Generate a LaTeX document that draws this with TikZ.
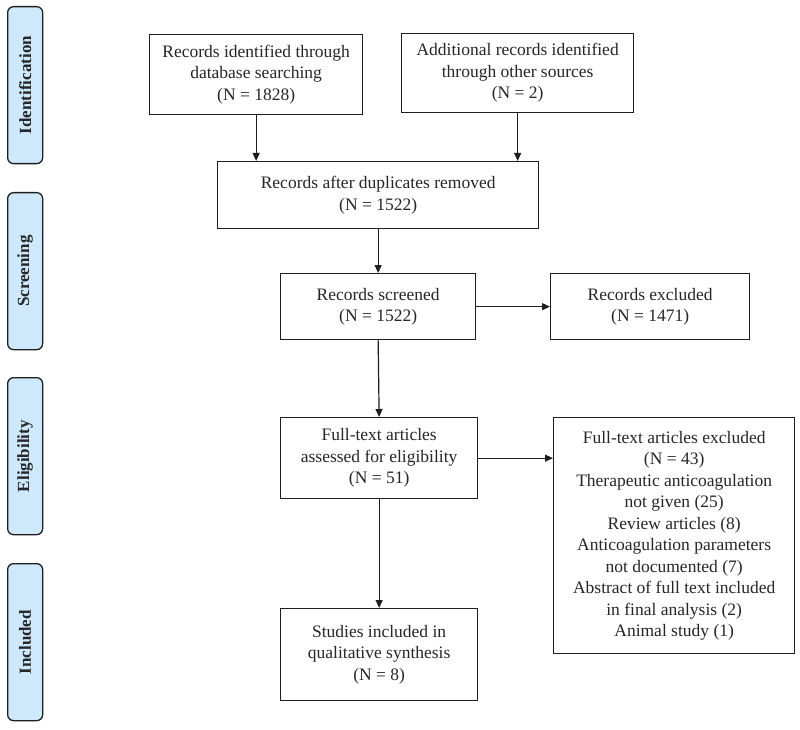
\documentclass[tikz,border=0pt]{standalone}
\usepackage{fontspec}
\setmainfont{Liberation Serif}
\usetikzlibrary{arrows.meta,positioning}
\definecolor{sidefill}{RGB}{206,232,252}
\definecolor{lineclr}{RGB}{30,30,30}
\begin{document}
\begin{tikzpicture}[x=1pt,y=-1pt,
  flowbox/.style={draw=lineclr,line width=1.3pt,fill=white,align=center,anchor=north west,inner sep=0pt,
    font=\fontsize{17.5}{21.5}\selectfont,text=black!85},
  sidebox/.style={draw=lineclr,line width=1.3pt,fill=sidefill,rounded corners=6pt,anchor=north west,inner sep=0pt,
    minimum width=35pt,minimum height=157pt},
  sidelabel/.style={rotate=90,font=\fontsize{17}{20}\selectfont\bfseries,text=black!85},
  arr/.style={draw=lineclr,line width=1.2pt,-{Triangle[length=8pt,width=7pt]}}]
\useasboundingbox (0,0) rectangle (800,730);
\fill[white] (0,0) rectangle (800,730);
% side bars
\node[sidebox] (s1) at (7,6) {};
\node[sidelabel] (s1t) at (s1.center) {Identification};
\node[sidebox] (s2) at (7,192) {};
\node[sidelabel] (s2t) at (s2.center) {Screening};
\node[sidebox] (s3) at (7,377) {};
\node[sidelabel] (s3t) at (s3.center) {Eligibility};
\node[sidebox] (s4) at (7,563) {};
\node[sidelabel] (s4t) at (s4.center) {Included};
% boxes
\node[flowbox,minimum width=213pt,minimum height=80pt] (b1) at (149,34)
  {Records identified through\\database searching\\(N = 1828)};
\node[flowbox,minimum width=232pt,minimum height=79pt] (b2) at (401,33)
  {Additional records identified\\through other sources\\(N = 2)};
\node[flowbox,minimum width=321pt,minimum height=67pt] (b3) at (217,161)
  {Records after duplicates removed\\(N = 1522)};
\node[flowbox,minimum width=195pt,minimum height=66pt] (b4) at (280,273)
  {Records screened\\(N = 1522)};
\node[flowbox,minimum width=199pt,minimum height=66pt] (b4x) at (550,273)
  {Records excluded\\(N = 1471)};
\node[flowbox,minimum width=197pt,minimum height=81pt] (b5) at (280,417)
  {Full-text articles\\assessed for eligibility\\(N = 51)};
\node[flowbox,minimum width=241pt,minimum height=236pt] (b5x) at (553,417)
  {Full-text articles excluded\\(N = 43)\\Therapeutic anticoagulation\\not given (25)\\Review articles (8)\\Anticoagulation parameters\\not documented (7)\\Abstract of full text included\\in final analysis (2)\\Animal study (1)};
\node[flowbox,minimum width=197pt,minimum height=92pt] (b6) at (280,608)
  {Studies included in\\qualitative synthesis\\(N = 8)};
% connectors
\draw[arr] (b1.south) -- (b1.south |- b3.north);
\draw[arr] (b2.south) -- (b2.south |- b3.north);
\draw[arr] (b3.south) -- (b4.north);
\draw[arr] (b4.east) -- (b4x.west);
\draw[arr] (b4.south) -- (b5.north);
\draw[arr] (b5.east) -- (b5.east -| b5x.west);
\draw[arr] (b5.south) -- (b6.north);
\end{tikzpicture}
\end{document}
